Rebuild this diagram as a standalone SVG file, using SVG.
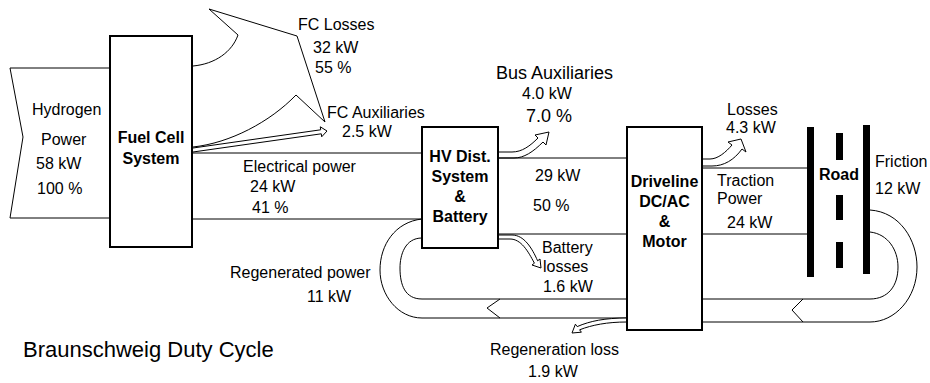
<svg xmlns="http://www.w3.org/2000/svg" width="930" height="383" viewBox="0 0 930 383">
<style>
.t{font-family:"Liberation Sans",Arial,sans-serif;font-size:16px;fill:#000}
.b{font-family:"Liberation Sans",Arial,sans-serif;font-size:16px;font-weight:bold;fill:#000;text-anchor:middle}
.l{fill:none;stroke:#000;stroke-width:1}
.a{fill:#fff;stroke:#000;stroke-width:1;stroke-linejoin:miter}
.box{fill:#fff;stroke:#000;stroke-width:2}
</style>
<rect width="930" height="383" fill="#fff"/>
<g id="connectors">
  <!-- hydrogen input -->
  <polyline class="l" points="110,68 10,68 23,137 10,218 110,218"/>
  <!-- FC losses -->
  <path class="a" d="M193,66 C215,64 232,52 238,35 L209,9 L297,36 L325,122 L296,95 C270,122 230,143 193,147"/>
  <!-- FC auxiliaries -->
  <path class="a" d="M193,148 L320.7,129.8 L320.3,126.8 L327,131 L321.7,136.8 L321.3,133.8 L193,152"/>
  <!-- electrical power -->
  <path class="l" d="M192,153 L422,153 M192,219 L422,219"/>
  <!-- bus auxiliaries -->
  <path class="a" d="M498,152 L512,152 C522,152 530,146 538,138 L535,135 L549,132 L546,145 L543,142 C533,152 524,158 514,158 L498,158"/>
  <!-- HV to driveline -->
  <path class="l" d="M498,158 L627,158 M498,234 L627,234"/>
  <!-- battery losses -->
  <path class="a" d="M498,235 L512,235 C524,235 532,248 537.6,260.8 L540,259 L541,268 L532,265 L534.4,263.2 C528,251 521,239 510,239 L498,239"/>
  <!-- driveline losses -->
  <path class="a" d="M702,159 L710,159 C718,159 726,152 732,145 L728,142 L741,139 L746,152 L742,149 C734,160 724,166 712,166 L702,166"/>
  <!-- traction -->
  <path class="l" d="M702,168 L807,168 M702,234 L807,234"/>
  <!-- regenerated loop (right) -->
  <path class="l" d="M870,210 C900,212 917,240 917,267 C917,298 895,322 870,322 L702,322"/>
  <path class="l" d="M870,232 C888,234 898,250 898,267 C898,286 888,299 870,299 L702,299"/>
  <polyline class="l" points="803,299 792,310 803,322"/>
  <!-- regenerated loop (left) -->
  <path class="l" d="M422,219 C395,222 380,245 380,270 C380,295 398,318 422,318 L627,318"/>
  <path class="l" d="M422,238 C405,238 400,255 400,268 C400,285 405,299 422,299 L627,299"/>
  <polyline class="l" points="500,299 487,308 500,318"/>
  <!-- regeneration loss -->
  <path class="a" d="M627,318 C605,318 590,321 577.2,326.6 L575.4,324.2 L572,333 L581.4,332.2 L579.6,329.8 C592,325 607,322 627,322"/>
</g>
<g id="fuel-cell">
  <rect class="box" x="110" y="36" width="82" height="211"/>
  <text class="b" x="151" y="143">Fuel Cell</text>
  <text class="b" x="151" y="164">System</text>
</g>
<g id="hv-dist">
  <rect class="box" x="422" y="127" width="76" height="121"/>
  <text class="b" x="460" y="162">HV Dist.</text>
  <text class="b" x="460" y="182">System</text>
  <text class="b" x="460" y="202">&amp;</text>
  <text class="b" x="460" y="222">Battery</text>
</g>
<g id="driveline">
  <rect class="box" x="627" y="127" width="75" height="203"/>
  <text class="b" x="664.5" y="187">Driveline</text>
  <text class="b" x="664.5" y="207">DC/AC</text>
  <text class="b" x="664.5" y="227">&amp;</text>
  <text class="b" x="664.5" y="247">Motor</text>
</g>
<g id="road">
  <rect x="807" y="127" width="7" height="150" fill="#000"/>
  <rect x="863" y="125" width="7" height="149" fill="#000"/>
  <rect x="836" y="133" width="7" height="27" fill="#000"/>
  <rect x="836" y="195" width="7" height="25" fill="#000"/>
  <rect x="836" y="242" width="7" height="26" fill="#000"/>
  <text class="b" x="839" y="180">Road</text>
</g>
<g id="labels">
  <text class="t" x="32" y="115">Hydrogen</text>
  <text class="t" x="41" y="145">Power</text>
  <text class="t" x="36" y="169">58 kW</text>
  <text class="t" x="37" y="194">100 %</text>
  <text class="t" x="298" y="30">FC Losses</text>
  <text class="t" x="313" y="53">32 kW</text>
  <text class="t" x="315" y="73">55 %</text>
  <text class="t" x="327" y="118">FC Auxiliaries</text>
  <text class="t" x="342" y="137">2.5 kW</text>
  <text class="t" x="243" y="172">Electrical power</text>
  <text class="t" x="250" y="192">24 kW</text>
  <text class="t" x="252" y="213">41 %</text>
  <text class="t" x="496" y="79" style="font-size:18px">Bus Auxiliaries</text>
  <text class="t" x="522" y="99">4.0 kW</text>
  <text class="t" x="526" y="122" style="font-size:18px">7.0 %</text>
  <text class="t" x="535" y="181">29 kW</text>
  <text class="t" x="533" y="211">50 %</text>
  <text class="t" x="542" y="253">Battery</text>
  <text class="t" x="543" y="272">losses</text>
  <text class="t" x="543" y="292">1.6 kW</text>
  <text class="t" x="230" y="278">Regenerated power</text>
  <text class="t" x="307" y="302">11 kW</text>
  <text class="t" x="490" y="355">Regeneration loss</text>
  <text class="t" x="528" y="377">1.9 kW</text>
  <text class="t" x="727" y="115">Losses</text>
  <text class="t" x="726" y="133">4.3 kW</text>
  <text class="t" x="717" y="186">Traction</text>
  <text class="t" x="717" y="204">Power</text>
  <text class="t" x="727" y="228">24 kW</text>
  <text class="t" x="875" y="167">Friction</text>
  <text class="t" x="875" y="194">12 kW</text>
  <text class="t" x="23" y="357" style="font-size:22px">Braunschweig Duty Cycle</text>
</g>
</svg>
